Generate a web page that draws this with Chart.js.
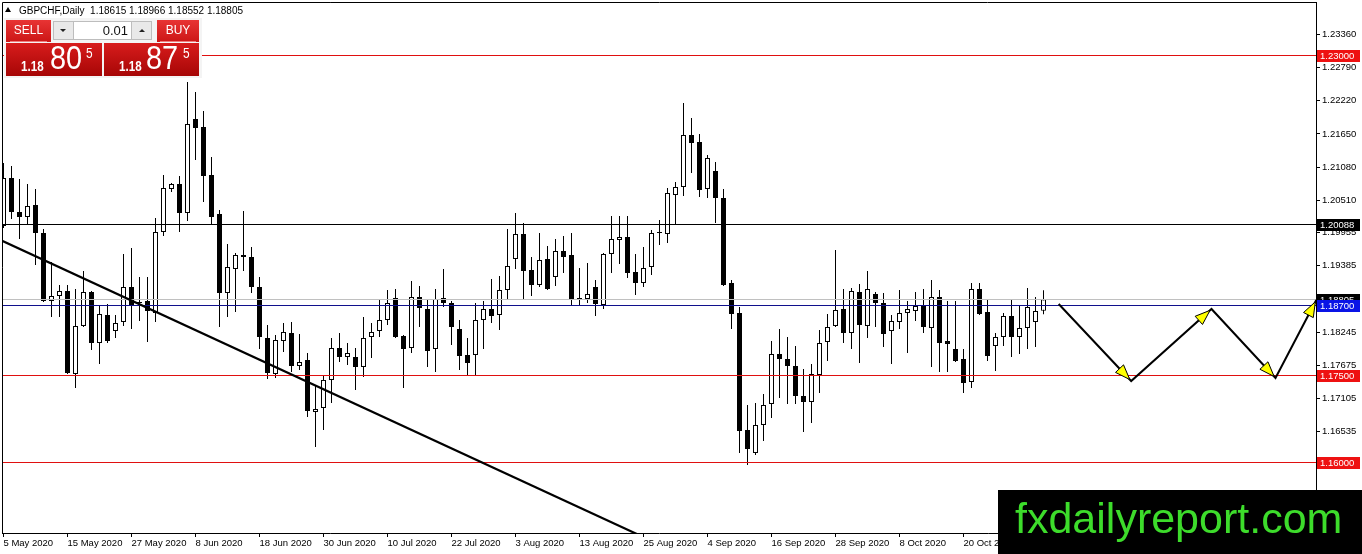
<!DOCTYPE html>
<html><head><meta charset="utf-8">
<script src="https://cdn.jsdelivr.net/npm/chart.js@4/dist/chart.umd.min.js"></script>
<style>html,body{margin:0;padding:0;background:#fff;overflow:hidden}canvas{display:block}</style>
</head><body>
<canvas id="c" width="1362" height="554"></canvas>
<script>
// ---- GBPCHF Daily OHLC (bar 0 = 5 May 2020 ... bar 130 = 3 Nov 2020) ----
const opens = [1.20069,1.20893,1.20309,1.20223,1.20429,1.19948,1.18781,1.18867,1.18953,1.17527,
1.18352,1.18935,1.18060,1.18540,1.18266,1.18420,1.19021,1.18746,1.18781,1.18575,
1.19966,1.20704,1.20790,1.20292,1.21906,1.21768,1.20944,1.20275,1.18918,1.19330,
1.19571,1.19536,1.19021,1.18146,1.17527,1.18094,1.18231,1.17665,1.17768,1.16875,
1.16944,1.17425,1.17974,1.17819,1.17819,1.17648,1.18163,1.18266,1.18455,1.18832,
1.18180,1.17974,1.18850,1.18643,1.17957,1.18832,1.18746,1.18300,1.17854,1.17854,
1.18455,1.18643,1.18540,1.18970,1.19502,1.19931,1.19313,1.19056,1.19502,1.19193,
1.19639,1.19571,1.18815,1.18815,1.19021,1.18712,1.19588,1.19828,1.19880,1.19279,
1.19090,1.19365,1.19948,1.19931,1.20601,1.20738,1.21631,1.21511,1.20704,1.21013,
1.20549,1.19090,1.18575,1.16566,1.16171,1.16652,1.17012,1.17871,1.17785,1.17665,
1.17150,1.17047,1.17510,1.18077,1.18352,1.18643,1.18231,1.18935,1.18352,1.18901,
1.18746,1.18266,1.18420,1.18575,1.18609,1.18695,1.18317,1.18850,1.18094,1.17957,
1.17785,1.17390,1.18987,1.18592,1.18008,1.18163,1.18523,1.18163,1.18317,1.18420,
1.18615];
const highs = [1.21150,1.21099,1.20876,1.20790,1.20704,1.20017,1.19450,1.19056,1.19056,1.18987,
1.19296,1.18953,1.18712,1.18729,1.18540,1.19588,1.19691,1.19193,1.19193,1.20206,
1.20944,1.20807,1.20927,1.22541,1.22369,1.22043,1.21253,1.20343,1.19760,1.19605,
1.20326,1.19708,1.19193,1.18369,1.18197,1.18403,1.18420,1.18214,1.17888,1.17339,
1.17510,1.18146,1.18231,1.18060,1.17974,1.18506,1.18403,1.18798,1.18970,1.18987,
1.18197,1.19124,1.19038,1.18815,1.18987,1.19330,1.18781,1.18455,1.18146,1.18746,
1.18781,1.19159,1.19210,1.20017,1.20292,1.20120,1.19536,1.19948,1.19725,1.19845,
1.19897,1.19948,1.19347,1.19433,1.19141,1.19605,1.20240,1.20240,1.20240,1.19588,
1.19708,1.20000,1.20172,1.20721,1.20824,1.22180,1.21923,1.21648,1.21288,1.21167,
1.20704,1.19141,1.18678,1.16995,1.17029,1.17184,1.18094,1.18300,1.18163,1.18008,
1.17613,1.17699,1.18283,1.18558,1.19656,1.18987,1.19004,1.19073,1.19296,1.18935,
1.18918,1.18540,1.18970,1.18781,1.18935,1.18987,1.19141,1.18970,1.18781,1.18781,
1.17957,1.19090,1.19090,1.18815,1.18231,1.18575,1.18815,1.18712,1.19004,1.18850,
1.18966];
const lows = [1.20034,1.20189,1.19845,1.20086,1.19399,1.18764,1.18506,1.18506,1.17527,1.17287,
1.18334,1.17939,1.17699,1.18060,1.18146,1.18352,1.18300,1.18437,1.18077,1.18420,
1.19897,1.20652,1.19966,1.20154,1.21202,1.20481,1.20103,1.18334,1.18506,1.18592,
1.19296,1.18918,1.17957,1.17442,1.17459,1.17905,1.17562,1.17596,1.16789,1.16274,
1.16566,1.17029,1.17733,1.17682,1.17253,1.17476,1.17802,1.18163,1.18369,1.18146,
1.17287,1.17888,1.18334,1.17648,1.17562,1.18678,1.18025,1.17596,1.17510,1.17510,
1.17957,1.18403,1.18283,1.18798,1.19330,1.18815,1.18867,1.19021,1.18970,1.19038,
1.19262,1.18712,1.18712,1.18746,1.18523,1.18643,1.19262,1.19416,1.19176,1.18884,
1.19021,1.19227,1.19742,1.19777,1.20086,1.20584,1.20979,1.20567,1.20549,1.20120,
1.19038,1.18300,1.16171,1.15965,1.16137,1.16377,1.16772,1.17115,1.17012,1.17012,
1.16532,1.16686,1.17201,1.17751,1.18334,1.18060,1.17957,1.17716,1.18146,1.18334,
1.17991,1.17699,1.18300,1.17888,1.18437,1.18231,1.17648,1.17562,1.17562,1.17733,
1.17201,1.17287,1.18540,1.17751,1.17579,1.18008,1.17819,1.17871,1.17957,1.17991,
1.18552];
const closes = [1.20893,1.20309,1.20223,1.20412,1.19948,1.18781,1.18867,1.18953,1.17545,1.18352,
1.18935,1.18060,1.18558,1.18094,1.18403,1.19021,1.18712,1.18764,1.18609,1.19966,
1.20721,1.20790,1.20292,1.21820,1.21751,1.20927,1.20223,1.18918,1.19365,1.19571,
1.19536,1.19021,1.18163,1.17545,1.18111,1.18249,1.17665,1.17733,1.16892,1.16926,
1.17425,1.17974,1.17819,1.17888,1.17648,1.18146,1.18249,1.18455,1.18746,1.18163,
1.17957,1.18850,1.18661,1.17922,1.18815,1.18746,1.18334,1.17836,1.17716,1.18455,
1.18643,1.18523,1.18970,1.19382,1.19931,1.19296,1.19056,1.19485,1.18987,1.19639,
1.19536,1.18815,1.18832,1.18901,1.18729,1.19588,1.19845,1.19880,1.19262,1.19090,
1.19347,1.19948,1.19966,1.20635,1.20738,1.21631,1.21494,1.20687,1.21236,1.20549,
1.19056,1.18558,1.16549,1.16240,1.16652,1.16995,1.17871,1.17785,1.17665,1.17150,
1.17047,1.17527,1.18060,1.18334,1.18626,1.18231,1.18953,1.18369,1.18987,1.18746,
1.18214,1.18437,1.18575,1.18643,1.18695,1.18334,1.18850,1.18060,1.18043,1.17751,
1.17373,1.18987,1.18558,1.17836,1.18163,1.18523,1.18163,1.18317,1.18678,1.18609,
1.18805];

// x-axis date labels and the bar index each belongs to
const dateLabels = ["5 May 2020","15 May 2020","27 May 2020","8 Jun 2020","18 Jun 2020","30 Jun 2020",
"10 Jul 2020","22 Jul 2020","3 Aug 2020","13 Aug 2020","25 Aug 2020","4 Sep 2020","16 Sep 2020",
"28 Sep 2020","8 Oct 2020","20 Oct 2020","30 Oct 2020"];
const dateTickBars = [0,8,16,24,32,40,48,56,64,72,80,88,96,104,112,120,128];
// y-axis price ticks
const yTickValues = [1.23360,1.22790,1.22220,1.21650,1.21080,1.20510,1.19955,1.19385,1.18815,
1.18245,1.17675,1.17105,1.16535,1.15965];

// horizontal levels
const redLevels = [1.23000, 1.17500, 1.16000];
const blackLevel = 1.20088;
const bidLevel = 1.18805;
const blueLevel = 1.18700;
// falling trend line (bar index, price)
const trendX = [-1, 82];
const trendY = [1.19868, 1.14600];
// projected zig-zag arrows
const zigX = [131.9, 140.96, 151.0, 159.0, 164.1];
const zigY = [1.18729, 1.17407, 1.18643, 1.17459, 1.18798];
// header / trade panel
const headerText = "GBPCHF,Daily  1.18615 1.18966 1.18552 1.18805";
const sellPrice = ["1.18", "80", "5"];
const buyPrice = ["1.18", "87", "5"];
const lotSize = "0.01";

const FONT = "'Liberation Sans', Arial, sans-serif";
const X_MIN = -0.1875, X_MAX = 164.0625;
const Y_MIN = 1.14797, Y_MAX = 1.23915;

const idx = opens.map((_, i) => i);
const wickData = idx.map(i => ({x: i, y: [lows[i], highs[i]]}));
const bodyData = idx.map(i => ({x: i, y: [opens[i], closes[i]]}));
const bodyFill = idx.map(i => closes[i] >= opens[i] ? '#ffffff' : '#000000');

function hLine(price, color, order) {
  return {type: 'line', snap: true, data: [{x: -2, y: price}, {x: 170, y: price}], borderColor: color,
    borderWidth: 1, pointRadius: 0, order: order, tension: 0};
}

const overlay = {
  id: 'overlay',
  beforeDatasetsDraw(chart) {
    // snap horizontal level lines to whole device pixels so they render crisp
    chart.data.datasets.forEach((ds, i) => {
      if (!ds.snap) return;
      const meta = chart.getDatasetMeta(i);
      meta.data.forEach(pt => { pt.y = Math.floor(pt.y) + 0.5; });
    });
  },
  afterDatasetsDraw(chart) {
    const ctx = chart.ctx, xs = chart.scales.x, ys = chart.scales.y, ca = chart.chartArea;
    ctx.save();
    ctx.beginPath(); ctx.rect(ca.left, ca.top, ca.right - ca.left + 3, ca.bottom - ca.top); ctx.clip();
    for (let k = 1; k < zigX.length; k++) {
      const px = xs.getPixelForValue(zigX[k]), py = ys.getPixelForValue(zigY[k]);
      const qx = xs.getPixelForValue(zigX[k-1]), qy = ys.getPixelForValue(zigY[k-1]);
      let dx = px - qx, dy = py - qy; const L = Math.hypot(dx, dy); dx /= L; dy /= L;
      const tx = px - dx * 2, ty = py - dy * 2;
      const bx = tx - dx * 15, by = ty - dy * 15;
      const nx = -dy, ny = dx;
      ctx.beginPath();
      ctx.moveTo(tx, ty);
      ctx.lineTo(bx + nx * 5.5, by + ny * 5.5);
      ctx.lineTo(bx - nx * 5.5, by - ny * 5.5);
      ctx.closePath();
      ctx.fillStyle = '#ffff00'; ctx.fill();
      ctx.strokeStyle = '#000'; ctx.lineWidth = 1; ctx.stroke();
    }
    ctx.restore();
  },
  afterDraw(chart) {
    const ctx = chart.ctx, ys = chart.scales.y, ca = chart.chartArea;
    ctx.save();
    // chart frame
    ctx.strokeStyle = '#000'; ctx.lineWidth = 1;
    ctx.beginPath();
    ctx.moveTo(ca.left + 0.5, ca.bottom); ctx.lineTo(ca.left + 0.5, ca.top + 0.5); ctx.lineTo(ca.right, ca.top + 0.5);
    ctx.stroke();
    // axis price labels
    const marks = [[redLevels[0], '#ee1111'], [blackLevel, '#000000'], [bidLevel, '#000000'],
                   [blueLevel, '#0a14e6'], [redLevels[1], '#ee1111'], [redLevels[2], '#ee1111']];
    ctx.font = '9.5px ' + FONT; ctx.textBaseline = 'middle'; ctx.textAlign = 'left';
    for (const [p, bg] of marks) {
      const py = Math.floor(ys.getPixelForValue(p));
      ctx.fillStyle = bg; ctx.fillRect(ca.right + 1, py - 5, 43, 12);
      ctx.fillStyle = '#ffffff'; ctx.fillText(p.toFixed(5), ca.right + 4, py + 1.5);
    }
    // header
    ctx.fillStyle = '#000';
    ctx.beginPath(); ctx.moveTo(5, 12); ctx.lineTo(11, 12); ctx.lineTo(8, 7); ctx.closePath(); ctx.fill();
    ctx.font = '10px ' + FONT; ctx.textBaseline = 'alphabetic';
    ctx.fillText(headerText, 19, 14);
    // trade panel
    const g = (y0, y1, c0, c1) => { const gr = ctx.createLinearGradient(0, y0, 0, y1); gr.addColorStop(0, c0); gr.addColorStop(1, c1); return gr; };
    ctx.fillStyle = '#f4f4f4'; ctx.fillRect(4, 18, 198, 60);
    ctx.fillStyle = g(20, 42, '#e83434', '#cc1616');
    ctx.fillRect(6, 20, 45, 22); ctx.fillRect(157, 20, 42, 22);
    ctx.fillStyle = '#e9e9e9'; ctx.fillRect(53, 21, 20, 19); ctx.fillRect(132, 21, 20, 19);
    ctx.fillStyle = '#ffffff'; ctx.fillRect(73, 21, 59, 19);
    ctx.strokeStyle = '#bdbdbd'; ctx.strokeRect(53.5, 21.5, 98, 18);
    ctx.beginPath(); ctx.moveTo(73.5, 21); ctx.lineTo(73.5, 40); ctx.moveTo(131.5, 21); ctx.lineTo(131.5, 40); ctx.stroke();
    ctx.fillStyle = '#222';
    ctx.beginPath(); ctx.moveTo(60, 29); ctx.lineTo(66, 29); ctx.lineTo(63, 32); ctx.closePath(); ctx.fill();
    ctx.beginPath(); ctx.moveTo(139, 32); ctx.lineTo(145, 32); ctx.lineTo(142, 29); ctx.closePath(); ctx.fill();
    ctx.font = '13px ' + FONT; ctx.textAlign = 'right'; ctx.textBaseline = 'middle';
    ctx.fillStyle = '#111'; ctx.fillText(lotSize, 128, 31);
    ctx.fillStyle = g(43, 76, '#d81c1c', '#a60606');
    ctx.fillRect(6, 43, 96, 33); ctx.fillRect(104, 43, 95, 33);
    ctx.fillStyle = 'rgba(255,170,170,0.7)'; ctx.fillRect(10, 41, 37, 1); ctx.fillRect(160, 41, 36, 1);
    ctx.fillStyle = '#fff'; ctx.textAlign = 'center';
    ctx.font = '12px ' + FONT; ctx.fillText('SELL', 28.5, 31); ctx.fillText('BUY', 178, 31);
    ctx.textAlign = 'left'; ctx.textBaseline = 'alphabetic';
    const drawPrice = (arr, x0, x1, x2) => {
      ctx.save(); ctx.translate(x0, 71); ctx.scale(0.83, 1); ctx.font = 'bold 14px ' + FONT; ctx.fillText(arr[0], 0, 0); ctx.restore();
      ctx.save(); ctx.translate(x1, 69); ctx.scale(0.85, 1); ctx.font = '34px ' + FONT; ctx.fillText(arr[1], 0, 0); ctx.restore();
      ctx.save(); ctx.translate(x2, 58); ctx.scale(0.85, 1); ctx.font = '14px ' + FONT; ctx.fillText(arr[2], 0, 0); ctx.restore();
    };
    drawPrice(sellPrice, 21, 50, 86);
    drawPrice(buyPrice, 119, 146, 183);
    // watermark box
    ctx.fillStyle = '#000'; ctx.fillRect(998, 490, 364, 64);
    ctx.fillStyle = '#3ddc2b'; ctx.font = '43px ' + FONT; ctx.textBaseline = 'alphabetic';
    ctx.fillText('fxdailyreport.com', 1015, 533);
    ctx.restore();
  }
};

new Chart(document.getElementById('c'), {
  type: 'bar',
  data: {
    datasets: [
      hLine(redLevels[0], '#e01010', -2),
      hLine(redLevels[1], '#e01010', -2),
      hLine(redLevels[2], '#e01010', -2),
      hLine(blackLevel, '#000000', -2),
      hLine(bidLevel, '#c0c0c0', -2),
      hLine(blueLevel, '#10108c', -3),
      {type: 'line', data: trendX.map((x, i) => ({x: x, y: trendY[i]})), borderColor: '#000', borderWidth: 2.2, pointRadius: 0, order: -4},
      {type: 'line', data: zigX.map((x, i) => ({x: x, y: zigY[i]})), borderColor: '#000', borderWidth: 2, pointRadius: 0, order: -5, clip: {left: 0, top: 0, right: 3, bottom: 0}},
      {type: 'bar', data: bodyData, backgroundColor: bodyFill, borderColor: '#000', borderWidth: 1,
       borderSkipped: false, barThickness: 5, grouped: false, minBarLength: 1, inflateAmount: 0, order: 0},
      {type: 'bar', data: wickData, backgroundColor: '#000', borderWidth: 0, borderSkipped: false,
       barThickness: 1, grouped: false, inflateAmount: 0, order: 1}
    ]
  },
  options: {
    responsive: false, animation: false, devicePixelRatio: 1,
    layout: {padding: {left: 2, top: 2, right: 0, bottom: 0}},
    plugins: {legend: {display: false}, tooltip: {enabled: false}},
    scales: {
      x: {
        type: 'linear', min: X_MIN, max: X_MAX, offset: false, bounds: 'data',
        grid: {drawOnChartArea: false, offset: false, tickLength: 4, tickColor: '#000', color: '#000'},
        border: {display: true, color: '#000', width: 1},
        ticks: {autoSkip: false, maxRotation: 0, minRotation: 0, align: 'start', padding: 1,
                color: '#000', font: {family: FONT, size: 9.5},
                callback: (v, i) => dateLabels[i]},
        afterBuildTicks: s => { s.ticks = dateTickBars.map(v => ({value: v})); },
        afterFit: s => { s.height = 21; s.paddingLeft = 0; s.paddingRight = 0; }
      },
      y: {
        type: 'linear', position: 'right', min: Y_MIN, max: Y_MAX, bounds: 'data',
        grid: {drawOnChartArea: false, tickLength: 4, tickColor: '#000', color: '#000'},
        border: {display: true, color: '#000', width: 1},
        ticks: {padding: 2, color: '#000', font: {family: FONT, size: 9.5},
                callback: v => Number(v).toFixed(5)},
        afterBuildTicks: s => { s.ticks = yTickValues.map(v => ({value: v})); },
        afterFit: s => { s.width = 46; s.paddingTop = 0; s.paddingBottom = 0; }
      }
    }
  },
  plugins: [overlay]
});
</script>
</body></html>
